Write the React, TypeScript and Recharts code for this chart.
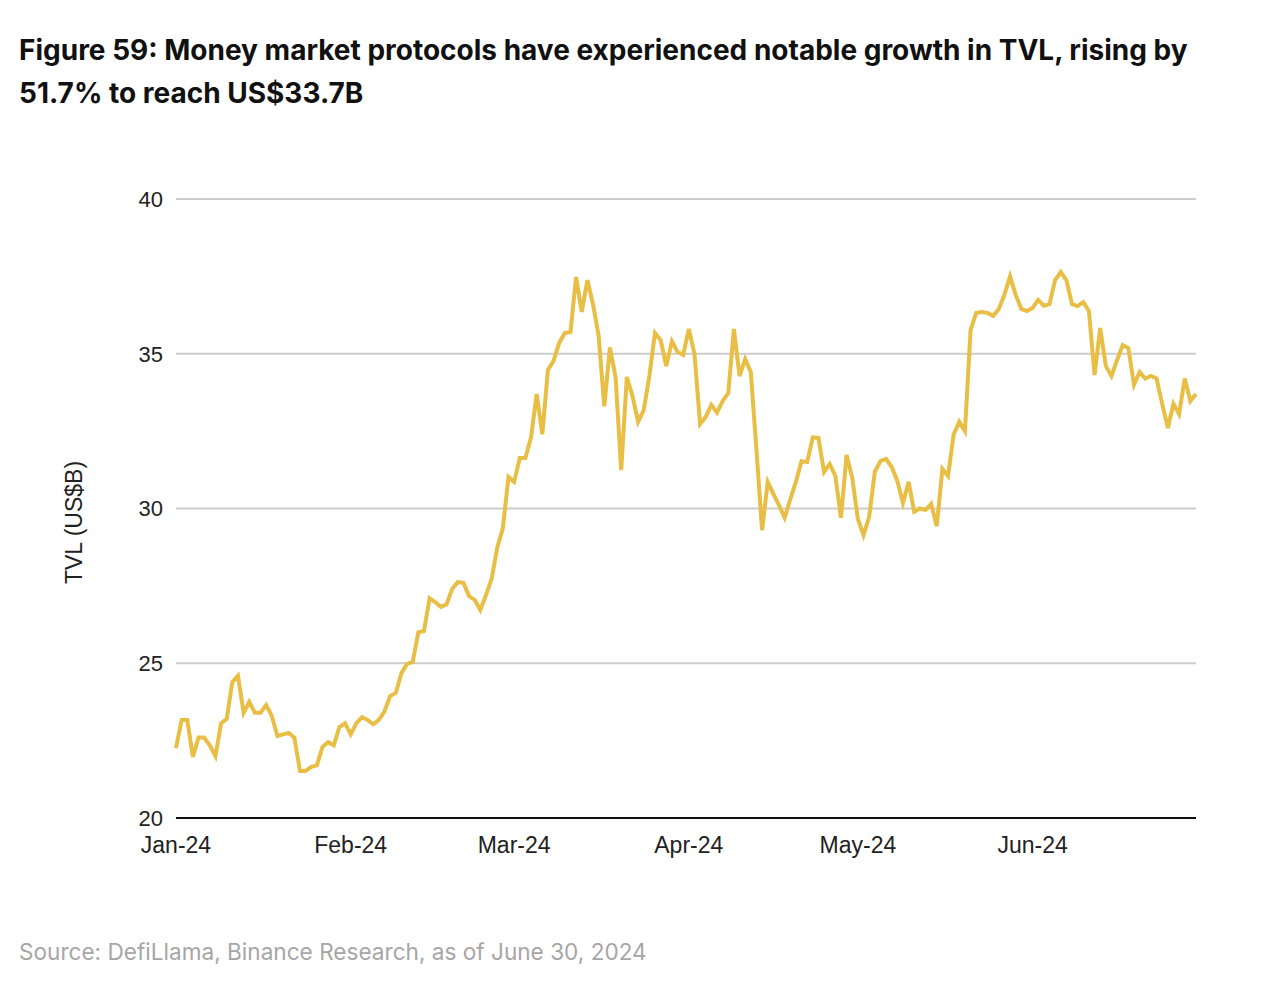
import { LineChart, Line, XAxis, YAxis, CartesianGrid } from 'recharts'

// daily TVL, 1 Jan 2024 .. 30 Jun 2024 (US$B)
const janTvl = [
  22.26, 23.17, 23.17, 21.97, 22.6, 22.6, 22.35, 22.0, 23.06, 23.2,
  24.4, 24.6, 23.4, 23.75, 23.4, 23.4, 23.65, 23.3, 22.65, 22.7,
  22.75, 22.6, 21.52, 21.52, 21.65, 21.7, 22.3, 22.45, 22.35, 22.94,
  23.06,
]
const febTvl = [
  22.7, 23.06, 23.26, 23.17, 23.03, 23.17, 23.45, 23.94, 24.04, 24.68,
  24.98, 25.04, 26.0, 26.04, 27.1, 26.98, 26.82, 26.9, 27.4, 27.62,
  27.6, 27.17, 27.05, 26.72, 27.2, 27.72, 28.73, 29.37, 31.02,
]
const marTvl = [
  30.86, 31.63, 31.63, 32.3, 33.7, 32.4, 34.48, 34.77, 35.35, 35.67,
  35.7, 37.48, 36.35, 37.38, 36.6, 35.57, 33.3, 35.2, 34.25, 31.24,
  34.25, 33.64, 32.8, 33.18, 34.28, 35.67, 35.44, 34.6, 35.4, 35.06,
  34.96,
]
const aprTvl = [
  35.8, 35.0, 32.73, 32.96, 33.35, 33.1, 33.47, 33.73, 35.8, 34.28,
  34.83, 34.41, 31.9, 29.3, 30.86, 30.47, 30.11, 29.7, 30.3, 30.86,
  31.53, 31.5, 32.3, 32.28, 31.18, 31.44, 31.05, 29.7, 31.73, 30.99,
]
const mayTvl = [
  29.66, 29.14, 29.73, 31.18, 31.53, 31.6, 31.34, 30.89, 30.18, 30.86,
  29.89, 30.0, 29.95, 30.15, 29.43, 31.28, 31.05, 32.4, 32.8, 32.5,
  35.77, 36.32, 36.35, 36.32, 36.22, 36.45, 36.9, 37.5, 36.9, 36.45,
  36.38,
]
const junTvl = [
  36.48, 36.74, 36.55, 36.6, 37.38, 37.64, 37.38, 36.6, 36.54, 36.67,
  36.38, 34.31, 35.83, 34.6, 34.28, 34.8, 35.28, 35.18, 34.0, 34.41,
  34.2, 34.28, 34.2, 33.38, 32.6, 33.38, 33.05, 34.2, 33.47, 33.7,
]

const monthLabels = ['Jan-24', 'Feb-24', 'Mar-24', 'Apr-24', 'May-24', 'Jun-24']
const monthStarts = [0, 31, 60, 91, 121, 152]
const yTicks = [20, 25, 30, 35, 40]

const allTvl = [...janTvl, ...febTvl, ...marTvl, ...aprTvl, ...mayTvl, ...junTvl]
const data = allTvl.map((tvl, day) => ({ day, tvl }))

const fmtMonth = (v: number) => monthLabels[monthStarts.indexOf(v)] ?? ''

const axisFont = "'Liberation Sans', Arial, sans-serif"

const YLabel = ({ viewBox }: any) => {
  const cx = 66
  const cy = viewBox.y + viewBox.height / 2 + 14
  return (
    <text
      x={cx}
      y={cy}
      transform={`rotate(-90, ${cx}, ${cy})`}
      textAnchor="middle"
      dominantBaseline="central"
      fontSize={23}
      fill="#222"
      fontFamily={axisFont}
    >
      TVL (US$B)
    </text>
  )
}

export default function App() {
  return (
    <div style={{ position: 'relative', width: 1264, height: 984, background: '#fff' }}>
      <div
        style={{
          position: 'absolute', left: 11, top: 21, width: 1250,
          fontFamily: 'Inter, "Noto Sans", sans-serif', fontWeight: 700,
          fontSize: 28, lineHeight: '43px', color: '#111',
        }}
      >
        Figure 59: Money market protocols have experienced notable growth in TVL, rising by
        <br />
        51.7% to reach US$33.7B
      </div>

      <div style={{ position: 'absolute', left: 0, top: 0 }}>
        <LineChart width={1240} height={900} data={data} margin={{ top: 191, right: 52, bottom: 60, left: 0 }}>
          <CartesianGrid vertical={false} stroke="#cccccc" strokeWidth={2} />
          <XAxis
            dataKey="day"
            type="number"
            domain={[0, 181]}
            ticks={monthStarts}
            tickFormatter={fmtMonth}
            interval={0}
            height={30}
            tickLine={false}
            axisLine={{ stroke: '#111', strokeWidth: 2 }}
            tickMargin={13}
            tick={{ fontSize: 23, fill: '#222', fontFamily: axisFont }}
          />
          <YAxis
            domain={[20, 40]}
            ticks={yTicks}
            interval={0}
            width={168}
            axisLine={false}
            tickLine={false}
            tickMargin={7}
            tick={{ fontSize: 22, fill: '#222', fontFamily: axisFont }}
            label={<YLabel />}
          />
          <Line
            type="linear"
            dataKey="tvl"
            stroke="#E9BE45"
            strokeWidth={4}
            dot={false}
            isAnimationActive={false}
          />
        </LineChart>
      </div>

      <div
        style={{
          position: 'absolute', left: 11, top: 930,
          fontFamily: 'Inter, "Noto Sans", sans-serif', fontSize: 22.6, color: '#a6a6a6',
        }}
      >
        Source: DefiLlama, Binance Research, as of June 30, 2024
      </div>
    </div>
  )
}
